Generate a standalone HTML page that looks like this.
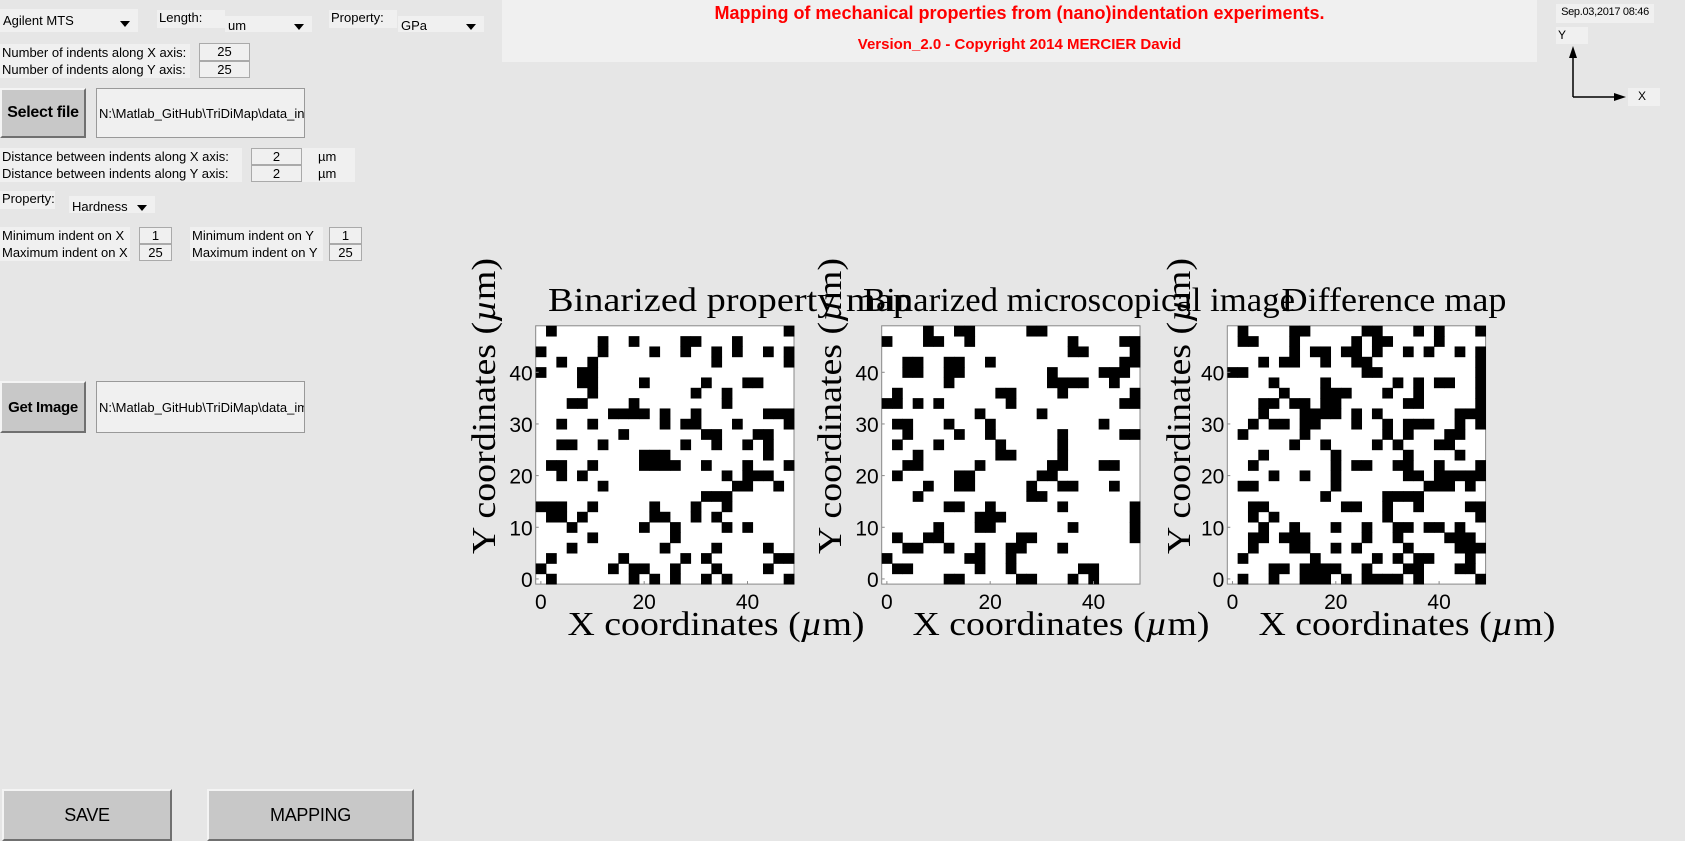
<!DOCTYPE html>
<html><head><meta charset="utf-8">
<style>
body{margin:0;width:1685px;height:841px;background:#e6e6e6;position:relative;overflow:hidden;font-family:"Liberation Sans",sans-serif;}
.a{position:absolute;box-sizing:border-box;}
.lbl{background:#f0f0f0;font-size:13px;color:#000;line-height:16px;padding-left:2px;white-space:nowrap;}
.box{background:#f0f0f0;border:1px solid #aaa;font-size:13px;text-align:center;line-height:15px;}
.dd{background:#f0f0f0;font-size:13px;padding-left:3px;}
.dd:after{content:"";position:absolute;right:8px;top:50%;border-left:5px solid transparent;border-right:5px solid transparent;border-top:6px solid #000;}
.btn{background:#c8c8c8;border:2px solid;border-color:#f4f4f4 #707070 #707070 #f4f4f4;font-size:16px;font-weight:bold;display:flex;align-items:center;justify-content:center;white-space:nowrap;letter-spacing:-0.3px;}
.path{background:#f0f0f0;border:1px solid #999;font-size:13px;display:flex;align-items:center;padding-left:2px;white-space:nowrap;overflow:hidden;}
</style></head><body>
<div class="a dd" style="left:0;top:9px;width:138px;height:23px;line-height:23px;">Agilent MTS</div>
<div class="a lbl" style="left:157px;top:10px;width:68px;height:18px;">Length:</div>
<div class="a dd" style="left:225px;top:16px;width:87px;height:16px;line-height:20px;">um</div>
<div class="a lbl" style="left:329px;top:10px;width:68px;height:18px;">Property:</div>
<div class="a dd" style="left:398px;top:16px;width:86px;height:16px;line-height:20px;">GPa</div>

<div class="a lbl" style="left:0;top:44px;width:190px;height:34px;line-height:17px;">Number of indents along X axis:<br>Number of indents along Y axis:</div>
<div class="a box" style="left:199px;top:43px;width:51px;height:18px;">25</div>
<div class="a box" style="left:199px;top:61px;width:51px;height:17px;">25</div>

<div class="a btn" style="left:0;top:88px;width:86px;height:50px;">Select file</div>
<div class="a path" style="left:96px;top:88px;width:209px;height:50px;">N:\Matlab_GitHub\TriDiMap\data_ind</div>

<div class="a lbl" style="left:0;top:148px;width:242px;height:34px;line-height:17px;">Distance between indents along X axis:<br>Distance between indents along Y axis:</div>
<div class="a box" style="left:251px;top:148px;width:51px;height:17px;">2</div>
<div class="a box" style="left:251px;top:165px;width:51px;height:17px;">2</div>
<div class="a lbl" style="left:302px;top:148px;width:53px;height:34px;line-height:17px;padding-left:16px;">µm<br>µm</div>

<div class="a lbl" style="left:0;top:191px;width:55px;height:18px;">Property:</div>
<div class="a dd" style="left:69px;top:196px;width:86px;height:17px;line-height:22px;">Hardness</div>

<div class="a lbl" style="left:0;top:227px;width:130px;height:34px;line-height:17px;">Minimum indent on X<br>Maximum indent on X</div>
<div class="a box" style="left:139px;top:227px;width:33px;height:17px;">1</div>
<div class="a box" style="left:139px;top:244px;width:33px;height:17px;">25</div>
<div class="a lbl" style="left:190px;top:227px;width:133px;height:34px;line-height:17px;">Minimum indent on Y<br>Maximum indent on Y</div>
<div class="a box" style="left:329px;top:227px;width:33px;height:17px;">1</div>
<div class="a box" style="left:329px;top:244px;width:33px;height:17px;">25</div>

<div class="a btn" style="left:0;top:381px;width:86px;height:52px;font-size:15px;">Get Image</div>
<div class="a path" style="left:96px;top:381px;width:209px;height:52px;">N:\Matlab_GitHub\TriDiMap\data_image</div>

<div class="a btn" style="left:2px;top:789px;width:170px;height:52px;font-weight:normal;font-size:18px;">SAVE</div>
<div class="a btn" style="left:207px;top:789px;width:207px;height:52px;font-weight:normal;font-size:18px;">MAPPING</div>

<div class="a" style="left:502px;top:0;width:1035px;height:62px;background:#f0f0f0;color:#ff0000;font-weight:bold;text-align:center;">
<div style="position:absolute;left:0;right:0;top:3px;font-size:18px;">Mapping of mechanical properties from (nano)indentation experiments.</div>
<div style="position:absolute;left:0;right:0;top:36px;font-size:15px;">Version_2.0 - Copyright 2014 MERCIER David</div>
</div>
<div class="a lbl" style="left:1556px;top:4px;width:98px;height:19px;font-size:11px;text-align:center;padding:0;letter-spacing:-0.3px;">Sep.03,2017 08:46</div>
<div class="a lbl" style="left:1556px;top:27px;width:32px;height:17px;font-size:12px;">Y</div>
<div class="a lbl" style="left:1628px;top:88px;width:32px;height:18px;font-size:12px;padding-left:10px;">X</div>
<svg class="a" style="left:0;top:0" width="1685" height="841" id="cv">
<g>
<line x1="1573" y1="97" x2="1573" y2="52" stroke="#000" stroke-width="1.5"/>
<polygon points="1573,46 1569,58 1577,58" fill="#000"/>
<line x1="1573" y1="97" x2="1620" y2="97" stroke="#000" stroke-width="1.5"/>
<polygon points="1626,97 1614,93 1614,101" fill="#000"/>
</g>
</svg>
<script>
// black cells per row, row 0 = top (y = 48), listing column indices (x = 2*col)
const map1Rows=[[1,24],[6,9,14,15,19],[0,6,11,14,17,19,22,24],[2,5,17,24],[0,4,5],[4,5,10,16,20,21],[5,15,18],[3,4,9,18],[7,8,9,10,12,15,22,23,24],[2,5,12,14,15,19,24],[8,16,17,21,22],[2,3,6,14,17,20,22],[10,11,12,22],[1,2,5,10,11,12,13,16,20,24],[2,4,18,20,21,22],[6,19,20,23],[16,17,18],[0,1,2,5,11,15,18],[1,2,4,11,12,15,17],[3,10,13,18,20],[5,13],[3,12,17,22],[1,8,14,16,23,24],[0,7,9,10,13,17,22],[1,9,11,13,16,18,24]];
const map2Rows=[[4,7,8,14,15],[0,4,5,8,18,23,24],[18,19,24],[2,3,6,7,10,23,24],[2,3,6,7,16,21,22,23],[6,16,17,18,19,22],[1,11,12,17,24],[0,1,3,5,12,23,24],[9,15],[1,2,6,10,21],[2,7,10,17,23,24],[1,5,11,17],[3,11,12,17],[2,3,9,16,17,21,22],[1,7,8,15,16],[4,7,8,14,17,18,22],[3,14,15],[6,7,10,17,24],[9,10,11,24],[5,9,10,18,24],[1,4,5,13,14,24],[2,3,6,9,12,13,17],[0,8,9,12],[1,2,9,12,19,20],[6,7,13,14,18,20]];
const map3Rows=[[1,6,7,13,14,18,20,24],[1,2,6,12,14,15,20],[6,8,9,11,12,14,17,19,22,24],[3,5,6,9,12,13,24],[0,1,13,14,24],[4,9,16,18,20,21,24],[5,9,10,11,15,18,24],[3,4,6,7,9,10,17,18,24],[3,7,8,9,10,12,14,22,23,24],[2,4,5,7,8,12,15,17,18,19,22,24],[1,7,15,17,21,22],[6,9,14,16,20,21],[3,10,17,22],[2,10,12,13,16,17,20,24],[4,7,10,17,18,20,21,22,23,24],[1,2,10,19,20,21,23],[9,15,16,17,18],[2,3,11,12,15,18,23,24],[2,4,15,24],[3,6,10,13,16,17,19,20,22],[2,3,5,6,7,13,16,21,22,23],[2,6,7,10,12,17,22,23,24],[1,8,14,16,18,19,23],[4,5,7,8,9,10,13,17,18,22,23],[1,4,7,8,9,11,13,14,15,16,18,24]];
const mapTitles=["Binarized property map","Binarized microscopical image","Difference map"];
const xTicks=[0,20,40];
const yTicks=[0,10,20,30,40];
const step=2, nCells=25;

const NS="http://www.w3.org/2000/svg";
const cv=document.getElementById('cv');
const lefts=[535.7,881.7,1227.3], top0=325.8, W=258.3, H=258.3;
const titleCx=[730,1079,1394], titleLen=[364,432,225], xLabCx=[716,1061,1407], yLabX=[484,830,1179];
const pxPerUnit=W/(nCells*step);
function mk(tag,attrs,parent){const e=document.createElementNS(NS,tag);for(const k in attrs)e.setAttribute(k,attrs[k]);(parent||cv).appendChild(e);return e;}
const allRows=[map1Rows,map2Rows,map3Rows];
allRows.forEach((rows,m)=>{
  const L=lefts[m];
  const sx=v=>L+(v+1)*pxPerUnit;
  const sy=v=>top0+H-(v+1)*pxPerUnit;
  const g=mk('g',{});
  
  
  const bg=mk('rect',{x:L,y:top0,width:W,height:H,fill:'#fff',stroke:'#888','stroke-width':1},g);
  
  
  rows.forEach((cols,r)=>{
    const yv=(nCells-1-r)*step;
    cols.forEach(c=>{
      const xv=c*step;
      const cell=mk('rect',{x:sx(xv-1),y:sy(yv+1),width:sx(xv+1)-sx(xv-1)+0.4,height:sy(yv-1)-sy(yv+1)+0.4,fill:'#000'},g);
      
      
    });
  });
  xTicks.forEach(v=>{
    mk('line',{x1:sx(v),x2:sx(v),y1:top0+H,y2:top0+H-3,stroke:'#888'},g);
    const t=mk('text',{x:sx(v),y:top0+H+25,'font-size':21,'text-anchor':'middle','font-family':'Liberation Sans, sans-serif'},g);
    t.textContent=v;
    
    
  });
  yTicks.forEach(v=>{
    mk('line',{x1:L,x2:L+3,y1:sy(v),y2:sy(v),stroke:'#888'},g);
    const t=mk('text',{x:L-3,y:sy(v)+8,'font-size':21,'text-anchor':'end','font-family':'Liberation Sans, sans-serif'},g);
    t.textContent=v;
    
    
  });
  const ti=mk('text',{x:titleCx[m],y:311,'font-size':34,'text-anchor':'middle','font-family':'Liberation Serif, serif',textLength:titleLen[m],lengthAdjust:'spacingAndGlyphs'},g);
  ti.textContent=mapTitles[m];
  
  
  const xl=mk('text',{x:xLabCx[m],y:635,'font-size':34,'text-anchor':'middle','font-family':'Liberation Serif, serif',textLength:297,lengthAdjust:'spacingAndGlyphs'},g);
  xl.innerHTML='X coordinates (<tspan font-style="italic">µ</tspan>m)';
  
  
  const yl=mk('text',{x:0,y:0,'font-size':34,'text-anchor':'middle','font-family':'Liberation Serif, serif',textLength:296,lengthAdjust:'spacingAndGlyphs',transform:'translate('+(yLabX[m]+11)+',406) rotate(-90)'},g);
  yl.innerHTML='Y coordinates (<tspan font-style="italic">µ</tspan>m)';
  
  
});
</script>
</body></html>
